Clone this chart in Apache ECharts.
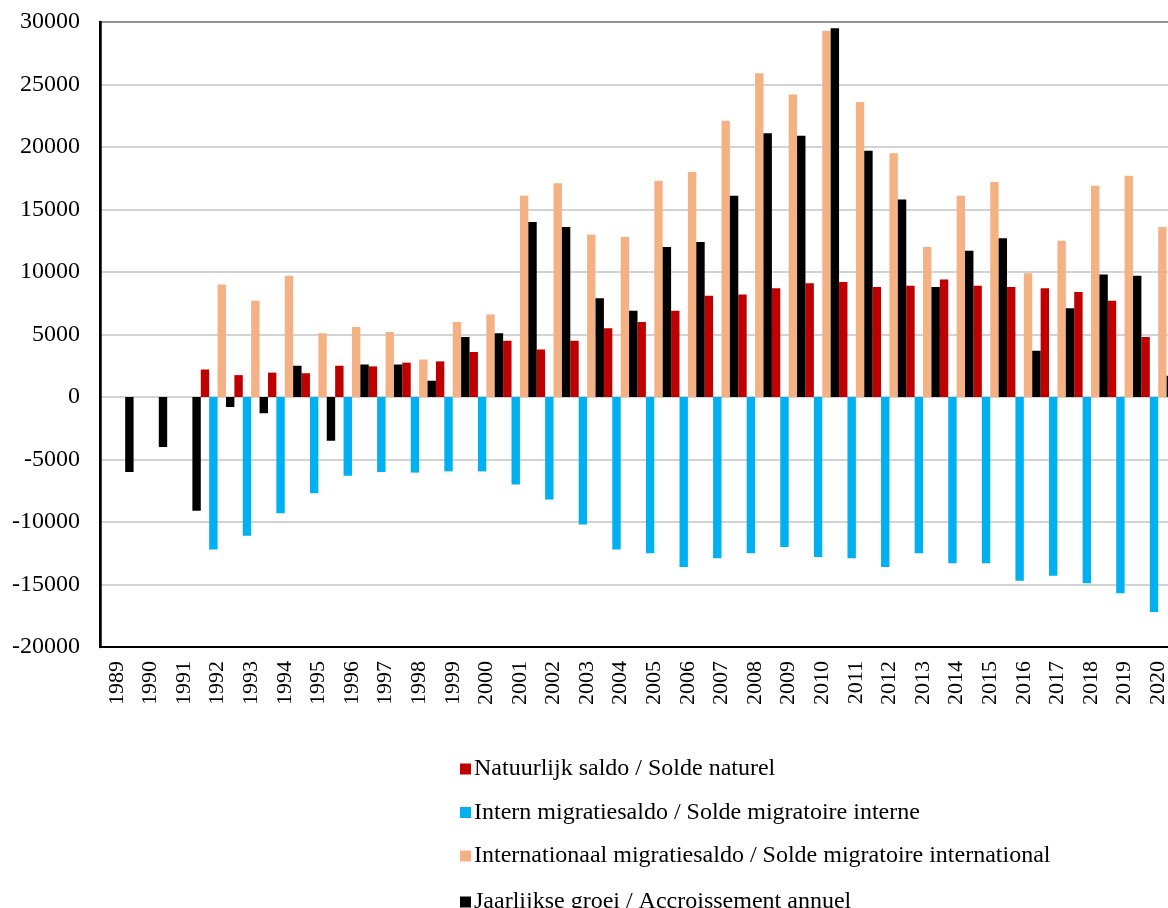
<!DOCTYPE html>
<html>
<head>
<meta charset="utf-8">
<script src="https://cdn.jsdelivr.net/npm/echarts@6/dist/echarts.min.js"></script>
<style>
    html, body { margin: 0; padding: 0; background: #fff; overflow: hidden; }
    #chart { width: 1180px; height: 908px; }
</style>
</head>
<body>
<div id="chart"></div>
<script>
    // jaren
    var years = ['1989', '1990', '1991', '1992', '1993', '1994', '1995', '1996', '1997', '1998',
        '1999', '2000', '2001', '2002', '2003', '2004', '2005', '2006', '2007', '2008',
        '2009', '2010', '2011', '2012', '2013', '2014', '2015', '2016', '2017', '2018',
        '2019', '2020'];

    var natuurlijk = [null, null, null, 2200, 1750, 1950, 1900, 2500, 2450, 2750,
        2850, 3600, 4500, 3800, 4500, 5500, 6000, 6900, 8100, 8200,
        8700, 9100, 9200, 8800, 8900, 9400, 8900, 8800, 8700, 8400,
        7700, 4800];

    var intern = [null, null, null, -12200, -11100, -9300, -7700, -6300, -6000, -6050,
        -5950, -5950, -7000, -8200, -10200, -12200, -12500, -13600, -12900, -12500,
        -12000, -12800, -12900, -13600, -12500, -13300, -13300, -14700, -14300, -14900,
        -15700, -17200];

    var internationaal = [null, null, null, 9000, 7700, 9700, 5100, 5600, 5200, 3000,
        6000, 6600, 16100, 17100, 13000, 12800, 17300, 18000, 22100, 25900,
        24200, 29300, 23600, 19500, 12000, 16100, 17200, 9900, 12500, 16900,
        17700, 13600];

    var groei = [-6000, -4000, -9100, -800, -1300, 2500, -3500, 2600, 2600, 1300,
        4800, 5100, 14000, 13600, 7900, 6900, 12000, 12400, 16100, 21100,
        20900, 29500, 19700, 15800, 8800, 11700, 12700, 3700, 7100, 9800,
        9700, 1700];

    var names = ['Natuurlijk saldo / Solde naturel',
        'Intern migratiesaldo / Solde migratoire interne',
        'Internationaal migratiesaldo / Solde migratoire international',
        'Jaarlijkse groei / Accroissement annuel'];
    var colors = ['#C00000', '#00B0F0', '#F4B183', '#000000'];

    var font = 'Liberation Serif, Times New Roman, serif';

    var legendText = { fontFamily: font, fontSize: 24, color: '#000', lineHeight: 22, padding: [0, 0, 0, -2] };

    var chart = echarts.init(document.getElementById('chart'));
    chart.setOption({
        animation: false,
        color: colors,
        textStyle: { fontFamily: font, color: '#000' },
        // plot loopt rechts iets buiten beeld, net als in het origineel
        grid: {
            left: 100, top: 22, right: 5, bottom: 261,
            show: true, borderColor: '#000', borderWidth: 2
        },
        legend: [{
            orient: 'vertical',
            left: 455, top: 752,
            itemWidth: 11, itemHeight: 11, itemGap: 19.5,
            icon: 'rect',
            textStyle: legendText,
            data: names.slice(0, 3)
        }, {
            orient: 'vertical',
            left: 455, top: 885,
            itemWidth: 11, itemHeight: 11,
            icon: 'rect',
            textStyle: legendText,
            data: names.slice(3)
        }],
        xAxis: {
            type: 'category',
            data: years,
            axisLine: { show: true, onZero: false, lineStyle: { color: '#000', width: 2 } },
            axisTick: { show: false },
            axisLabel: { rotate: 90, interval: 0, fontSize: 22, color: '#000', margin: 14, fontFamily: font }
        },
        yAxis: {
            type: 'value',
            min: -20000, max: 30000, interval: 5000,
            axisLine: { show: true, lineStyle: { color: '#000', width: 2.5 } },
            axisTick: { show: false },
            axisLabel: {
                fontSize: 24, color: '#000', margin: 20, fontFamily: font,
                formatter: function (v) { return String(v); }
            },
            splitLine: { lineStyle: { color: '#c4c4c4', width: 1.5 } }
        },
        series: [
            { name: names[0], type: 'bar', data: natuurlijk, barGap: '0%', barCategoryGap: '0%' },
            { name: names[1], type: 'bar', data: intern, barGap: '0%', barCategoryGap: '0%' },
            { name: names[2], type: 'bar', data: internationaal, barGap: '0%', barCategoryGap: '0%' },
            { name: names[3], type: 'bar', data: groei, barGap: '0%', barCategoryGap: '0%' }
        ]
    });
</script>
</body>
</html>
